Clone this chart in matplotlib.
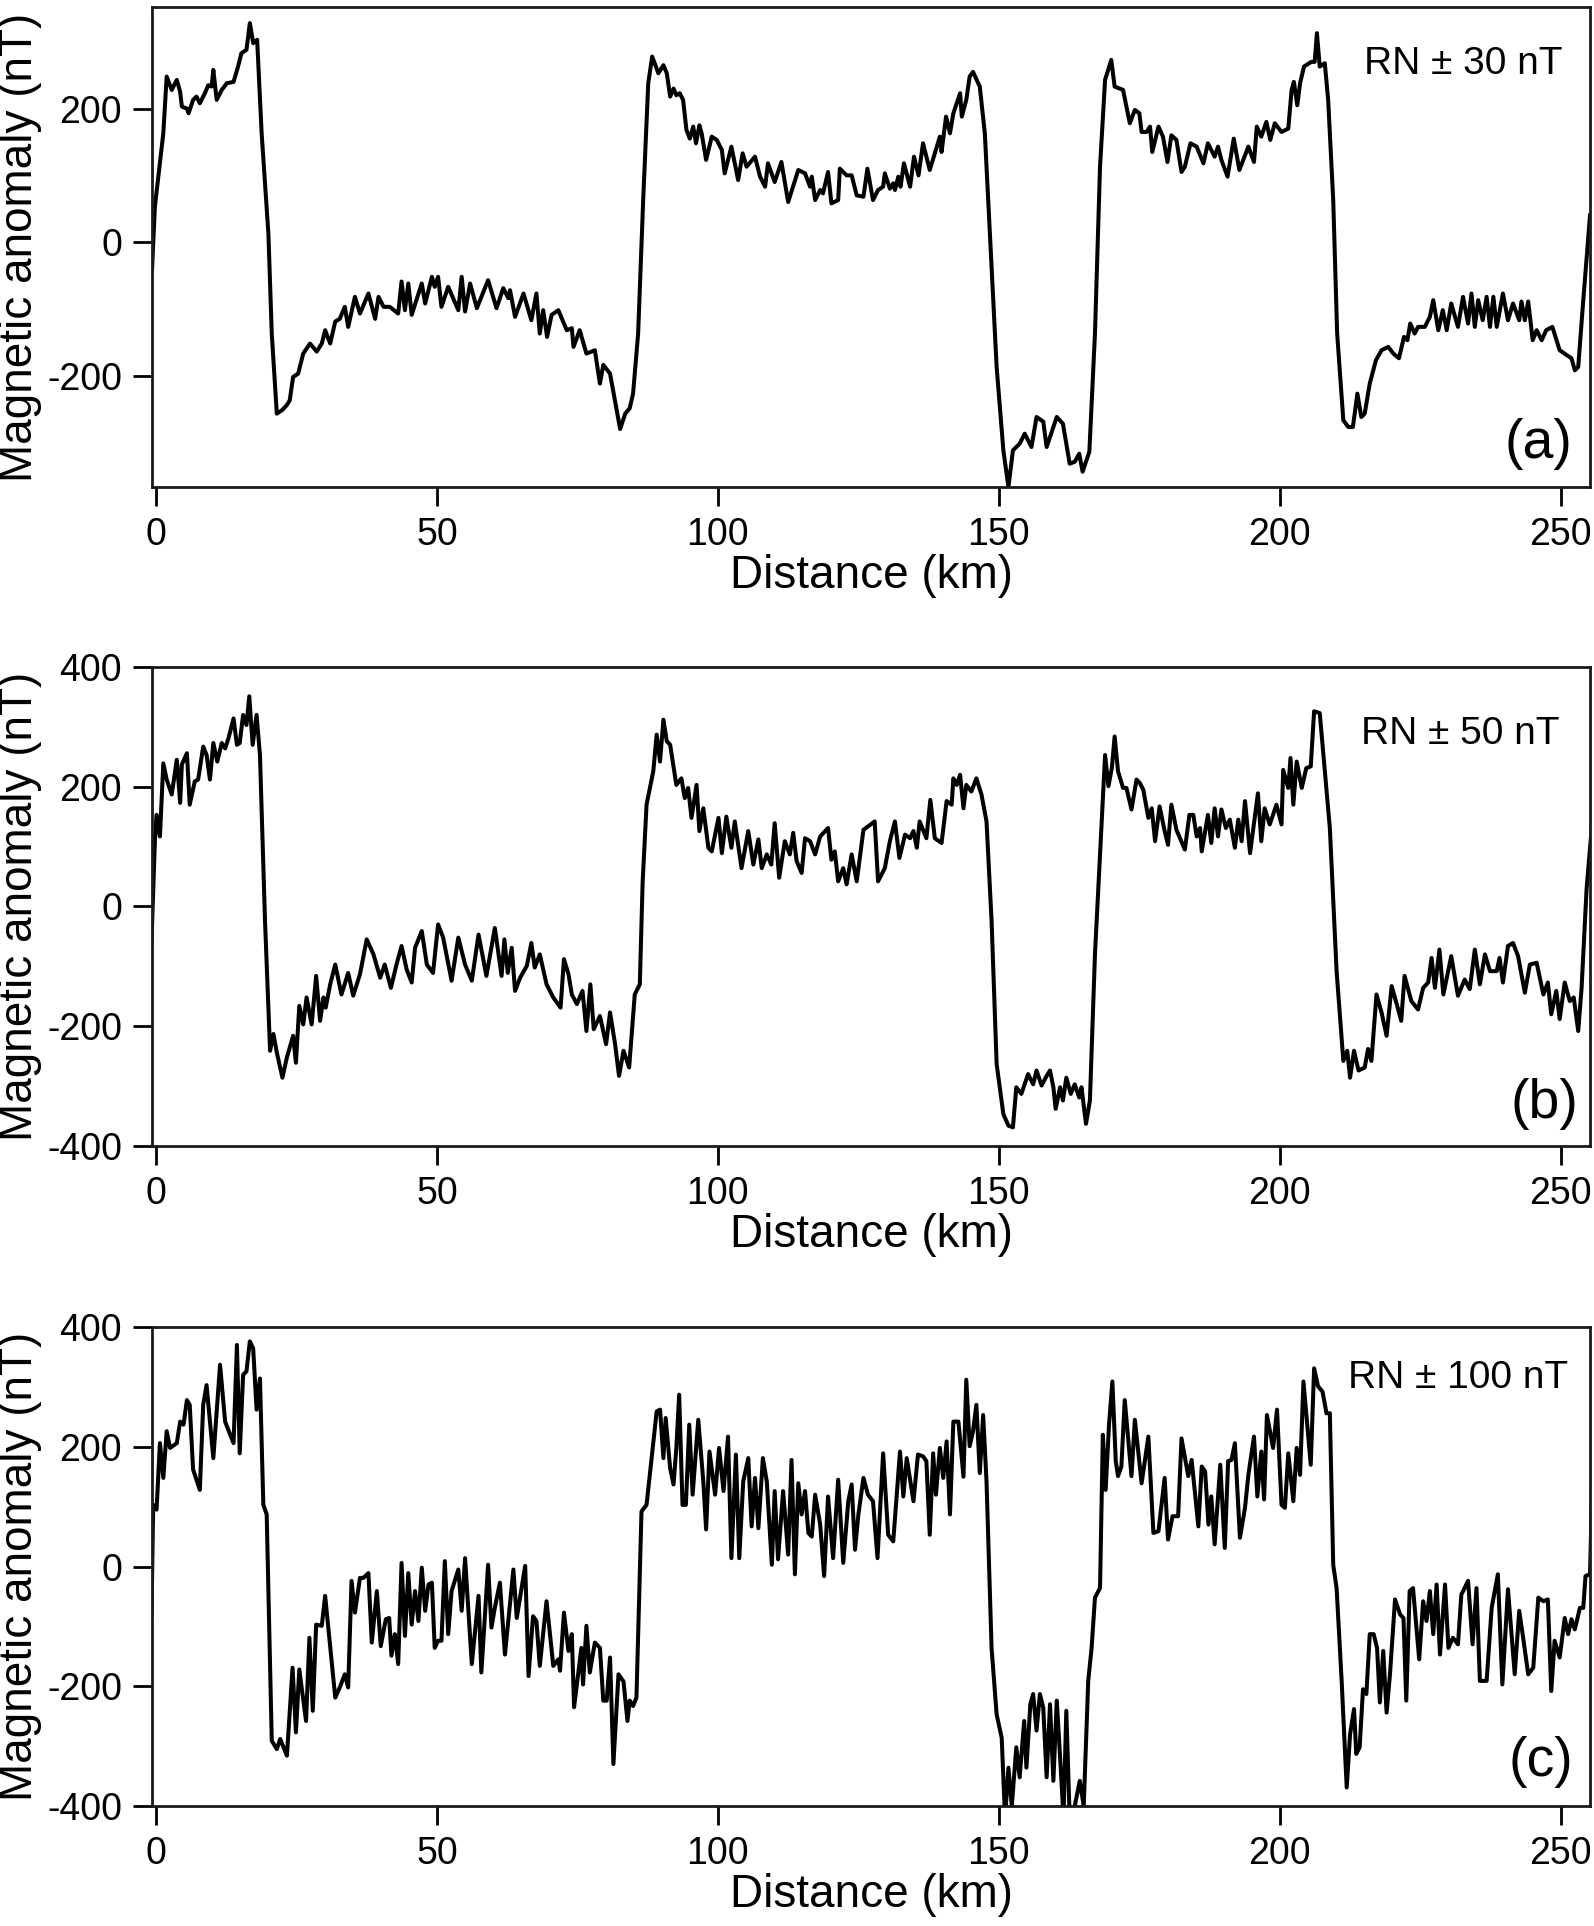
import matplotlib
matplotlib.use("Agg")
import matplotlib.pyplot as plt

plt.rcParams['font.family'] = ['Liberation Sans', 'DejaVu Sans']
plt.rcParams['axes.unicode_minus'] = False

# ---------------- data ----------------
a_km = [-0.7, -0.2, 1.3, 1.9, 2.8, 3.7, 4.3, 4.6, 5.5, 5.8, 6.6, 7.2, 7.8, 8.7, 9.3, 9.9, 10.2, 10.8,
        11.7, 12.6, 13.8, 14.6, 15.2, 16.1, 16.7, 17.3, 18.0, 18.8, 20.0, 20.6, 21.5, 22.4, 23.3, 23.8,
        24.4, 25.3, 26.2, 27.4, 28.6, 29.5, 30.1, 31.0, 31.9, 32.7, 33.6, 34.2, 35.4, 36.3, 37.8, 39.0,
        39.6, 40.5, 41.6, 43.1, 43.7, 44.3, 44.9, 45.5, 47.3, 47.9, 49.1, 49.6, 50.2, 50.8, 52.0, 53.8,
        54.4, 55.0, 55.9, 57.1, 59.1, 60.6, 61.8, 62.7, 63.0, 63.9, 65.4, 66.8, 67.7, 68.3, 68.9, 69.6,
        70.4, 71.6, 73.1, 74.0, 74.3, 75.4, 76.6, 78.1, 79.0, 79.6, 80.8, 82.6, 83.5, 84.3, 84.9, 85.8,
        86.7, 87.6, 88.3, 89.4, 90.3, 90.9, 91.5, 92.1, 92.6, 93.2, 93.8, 94.4, 95.0, 95.6, 96.1, 96.7,
        97.1, 97.9, 98.9, 99.8, 100.7, 101.2, 102.4, 103.6, 104.4, 105.1, 106.6, 107.5, 108.4, 108.9,
        110.1, 111.3, 112.5, 114.3, 115.5, 116.4, 116.7, 117.3, 118.2, 118.7, 119.6, 120.2, 121.4, 121.7,
        122.9, 123.8, 124.7, 125.9, 126.6, 127.6, 128.5, 129.4, 129.7, 130.6, 131.2, 131.5, 132.1, 132.5,
        133.1, 134.2, 134.9, 135.7, 136.5, 137.7, 139.5, 139.8, 140.6, 141.3, 141.9, 143.1, 143.4, 144.2,
        144.8, 145.4, 146.6, 147.5, 148.7, 149.6, 150.8, 151.7, 152.5, 153.7, 154.6, 155.8, 156.7, 157.9,
        158.5, 160.3, 161.4, 162.6, 163.5, 164.3, 164.9, 166.1, 167.1, 168.0, 168.9, 170.0, 170.6, 172.1,
        173.3, 174.2, 175.0, 175.4, 176.3, 176.9, 177.3, 178.4, 179.2, 180.0, 180.7, 181.6, 182.5, 183.1,
        184.1, 185.2, 186.4, 187.2, 188.4, 189.0, 189.6, 190.7, 191.8, 192.8, 194.4, 195.4, 195.9, 196.7,
        197.6, 198.3, 199.1, 200.3, 201.5, 202.1, 202.5, 203.1, 203.6, 204.3, 205.6, 206.2, 206.6, 207.1,
        208.0, 208.6, 209.5, 210.2, 211.3, 212.2, 213.0, 213.8, 214.5, 215.1, 216.0, 217.1, 218.1, 219.3,
        220.2, 221.2, 222.1, 222.7, 223.2, 224.0, 224.6, 225.8, 226.7, 227.3, 228.2, 229.0, 229.7, 230.5,
        231.7, 232.6, 233.5, 234.1, 234.7, 235.3, 236.1, 236.8, 237.4, 238.0, 238.6, 239.7, 240.6, 241.5,
        242.6, 243.0, 243.6, 244.2, 245.0, 245.7, 246.6, 247.4, 248.5, 249.8, 251.0, 251.9, 252.5, 253.1,
        254.0, 255.2]
a_nT = [-40, 53, 163, 248, 228, 243, 225, 203, 200, 193, 213, 218, 208, 223, 235, 233, 258, 213,
        228, 238, 240, 263, 283, 288, 328, 298, 303, 163, 13, -137, -257, -252, -244, -237,
        -202, -197, -167, -152, -164, -152, -132, -152, -119, -115, -97, -127, -82, -107, -77, -115,
        -82, -97, -97, -107, -59, -102, -62, -109, -62, -92, -52, -67, -52, -97, -67, -102,
        -52, -104, -62, -99, -57, -99, -69, -84, -72, -112, -77, -117, -77, -137, -102, -142,
        -109, -102, -132, -129, -157, -132, -167, -162, -212, -184, -197, -280, -257, -249, -227, -137,
        63, 238, 278, 253, 265, 253, 218, 230, 220, 223, 213, 168, 155, 173, 148, 175,
        163, 123, 158, 153, 138, 103, 143, 93, 133, 113, 128, 98, 83, 118,
        90, 120, 60, 108, 103, 83, 98, 63, 78, 73, 105, 58, 63, 110,
        100, 100, 70, 68, 110, 63, 78, 83, 103, 80, 88, 78, 98, 83,
        118, 83, 128, 100, 148, 108, 158, 135, 188, 163, 193, 223, 188, 213,
        248, 255, 233, 163, -37, -187, -312, -367, -312, -302, -287, -307, -262, -269,
        -307, -262, -272, -332, -329, -317, -344, -314, -137, 113, 243, 273, 233, 228,
        178, 198, 193, 165, 165, 173, 135, 173, 158, 120, 160, 153, 105, 113,
        148, 143, 118, 148, 128, 143, 123, 98, 155, 108, 143, 120, 173, 158,
        180, 153, 178, 165, 170, 228, 240, 205, 238, 263, 270, 270, 313, 263,
        268, 213, 63, -137, -267, -277, -277, -227, -262, -257, -212, -177, -162, -157,
        -167, -174, -142, -147, -122, -137, -127, -127, -112, -87, -132, -102, -132, -92,
        -127, -82, -122, -77, -127, -87, -117, -82, -127, -82, -127, -77, -117, -92,
        -117, -89, -117, -89, -147, -132, -147, -132, -127, -162, -169, -174, -192, -187,
        -87, 40]

b_km = [-0.8, -0.2, 0.1, 0.7, 1.3, 1.9, 2.8, 3.7, 4.3, 4.6, 5.5, 6.0, 6.9, 7.5, 8.4, 9.0, 9.6, 10.2,
        10.9, 11.7, 12.3, 12.9, 13.8, 14.4, 14.9, 15.5, 16.1, 16.6, 17.2, 17.9, 18.5, 19.4, 20.3, 20.9,
        21.5, 22.5, 23.3, 24.4, 24.9, 25.5, 26.2, 26.8, 27.7, 28.5, 29.2, 29.8, 30.2, 31.0, 31.9, 33.0,
        34.2, 35.1, 36.3, 37.5, 38.7, 39.9, 40.7, 41.8, 42.8, 43.7, 44.6, 45.5, 46.1, 47.3, 48.2, 49.3,
        50.2, 51.1, 52.6, 53.8, 55.0, 56.2, 57.4, 58.8, 60.3, 61.5, 62.0, 62.6, 63.3, 63.9, 64.8, 66.0,
        66.8, 67.4, 68.3, 69.5, 70.7, 72.0, 72.6, 73.4, 74.0, 74.9, 75.9, 76.6, 77.3, 77.9, 79.0, 80.1,
        80.8, 81.7, 82.4, 83.2, 84.2, 85.2, 86.1, 86.6, 87.3, 88.5, 89.1, 89.7, 90.3, 90.9, 91.5, 92.6,
        93.5, 94.1, 94.7, 95.3, 96.2, 96.7, 97.4, 98.3, 98.9, 100.1, 100.7, 101.5, 102.4, 103.0, 104.2,
        105.4, 106.3, 107.2, 107.8, 108.7, 109.5, 110.1, 110.9, 111.9, 112.8, 113.4, 114.0, 114.9, 115.5,
        116.4, 117.3, 118.2, 119.6, 120.2, 120.8, 121.4, 122.3, 122.9, 123.8, 124.7, 125.9, 127.9, 128.5,
        129.7, 130.6, 131.5, 132.3, 133.3, 134.2, 134.8, 135.4, 135.9, 137.1, 137.8, 138.6, 139.8, 140.7,
        141.6, 141.9, 142.5, 143.1, 143.7, 144.2, 145.1, 146.0, 146.9, 147.8, 148.7, 149.6, 150.8, 151.7,
        152.5, 153.1, 154.0, 155.2, 156.1, 156.7, 157.6, 158.5, 159.1, 159.7, 160.1, 160.9, 161.4, 162.0,
        162.8, 163.5, 164.3, 164.7, 165.5, 166.2, 167.1, 168.0, 168.9, 169.5, 170.1, 170.6, 171.2, 172.1,
        172.7, 173.6, 174.5, 175.1, 175.7, 176.6, 177.2, 177.8, 178.6, 179.5, 180.1, 180.7, 181.6, 183.1,
        183.9, 184.6, 185.2, 185.8, 186.1, 187.2, 187.8, 188.4, 189.0, 189.6, 190.4, 191.1, 192.0, 192.6,
        193.2, 193.8, 194.7, 196.1, 196.7, 197.3, 198.2, 199.4, 200.3, 200.6, 201.5, 201.9, 202.4, 203.0,
        203.9, 204.7, 205.5, 206.1, 207.1, 208.0, 208.9, 210.1, 211.3, 212.0, 212.5, 213.2, 214.0, 215.1,
        215.7, 216.3, 217.2, 218.1, 219.0, 219.9, 220.8, 221.6, 222.2, 223.4, 224.6, 225.5, 226.4, 227.0,
        227.6, 228.4, 229.1, 230.5, 231.7, 232.9, 233.8, 234.7, 235.6, 236.5, 237.4, 238.6, 239.1, 239.7,
        240.6, 241.5, 242.4, 243.6, 244.5, 245.7, 246.9, 247.7, 248.3, 249.2, 249.8, 250.7, 251.6, 252.3,
        253.1, 253.7, 254.6, 255.5]
b_nT = [-58, 109, 153, 117, 239, 212, 187, 245, 173, 237, 256, 170, 209, 212, 267, 253, 212, 273,
        242, 273, 264, 281, 314, 270, 273, 320, 303, 351, 270, 320, 253, -24, -241, -213,
        -244, -286, -252, -216, -261, -166, -197, -152, -197, -116, -191, -152, -169, -130, -97, -147,
        -111, -149, -113, -55, -80, -119, -97, -136, -97, -66, -105, -127, -69, -41, -97, -111,
        -30, -52, -124, -52, -97, -124, -47, -116, -36, -116, -55, -111, -69, -141, -119, -99,
        -61, -102, -80, -130, -152, -169, -88, -113, -147, -163, -141, -208, -130, -205, -183, -230,
        -177, -230, -283, -241, -269, -147, -130, 40, 170, 226, 287, 242, 312, 276, 270, 203,
        214, 181, 198, 148, 203, 126, 164, 98, 92, 148, 89, 150, 98, 142, 64,
        126, 70, 112, 64, 87, 70, 139, 48, 109, 87, 123, 76, 56, 114,
        109, 87, 117, 131, 78, 92, 42, 64, 37, 87, 42, 128, 142, 42,
        64, 109, 142, 81, 120, 114, 126, 98, 142, 114, 178, 114, 106, 176,
        170, 214, 203, 220, 164, 203, 192, 214, 187, 142, -24, -263, -347, -366,
        -369, -302, -313, -280, -297, -274, -299, -283, -274, -302, -338, -302, -324, -286,
        -313, -297, -319, -302, -363, -324, -80, 87, 253, 201, 231, 284, 226, 198,
        198, 162, 212, 206, 195, 148, 164, 109, 167, 126, 103, 170, 128, 95,
        153, 153, 117, 131, 92, 153, 106, 164, 117, 162, 131, 145, 98, 145,
        109, 176, 89, 189, 109, 164, 137, 170, 137, 228, 198, 248, 170, 242,
        198, 231, 234, 326, 323, 226, 131, -108, -258, -241, -286, -241, -274, -269,
        -238, -258, -147, -177, -216, -133, -163, -191, -116, -158, -172, -136, -127, -86,
        -136, -72, -147, -83, -149, -122, -138, -72, -130, -80, -108, -108, -86, -127,
        -66, -61, -83, -144, -97, -94, -147, -127, -180, -141, -188, -127, -158, -152,
        -208, -136, 31, 130]

c_km = [-0.8, -0.5, 0.1, 0.7, 1.3, 1.9, 2.5, 3.7, 4.3, 4.9, 5.5, 6.0, 6.6, 7.8, 8.4, 9.0, 10.2, 11.4,
        12.3, 13.8, 14.4, 14.9, 15.5, 16.1, 16.7, 17.3, 17.9, 18.5, 19.1, 19.7, 20.6, 21.5, 22.1, 23.3,
        24.3, 24.9, 25.5, 26.7, 27.3, 27.9, 28.5, 29.5, 30.1, 31.9, 32.7, 33.6, 34.2, 34.8, 35.4, 36.3,
        36.9, 37.8, 38.4, 39.3, 40.0, 40.9, 41.5, 41.9, 42.5, 43.1, 43.7, 44.3, 44.9, 45.5, 46.1, 46.7,
        47.3, 47.9, 48.5, 49.1, 49.6, 50.2, 50.8, 51.4, 52.0, 52.6, 53.8, 54.4, 55.0, 56.2, 57.4, 57.9,
        59.1, 59.7, 60.3, 61.2, 62.1, 63.6, 64.2, 65.7, 66.3, 67.1, 67.7, 68.3, 69.5, 70.7, 71.6, 71.9,
        72.6, 73.4, 74.0, 74.4, 75.7, 76.0, 76.6, 77.2, 78.1, 79.0, 79.6, 80.2, 80.8, 81.4, 82.3, 83.2,
        83.9, 84.3, 84.9, 85.5, 86.4, 87.3, 88.2, 89.1, 89.7, 90.3, 90.7, 91.5, 92.1, 92.6, 93.1, 93.7,
        94.3, 94.9, 95.5, 96.5, 97.4, 97.9, 98.5, 99.5, 100.2, 101.0, 101.8, 102.4, 103.2, 103.8, 104.5,
        105.4, 106.0, 106.6, 107.2, 108.0, 108.7, 109.6, 110.1, 110.7, 111.6, 112.5, 113.1, 113.7, 114.3,
        114.9, 115.5, 116.1, 116.7, 117.3, 118.2, 118.9, 119.6, 120.5, 121.4, 122.3, 123.2, 123.8, 124.4,
        125.0, 125.9, 126.7, 127.6, 128.4, 129.4, 130.3, 131.2, 132.4, 133.0, 133.6, 134.8, 135.6, 136.5,
        137.1, 137.7, 138.3, 138.8, 139.5, 140.1, 140.7, 141.3, 141.9, 142.8, 143.7, 144.2, 144.8, 145.4,
        146.0, 146.6, 147.2, 147.8, 148.7, 149.6, 150.5, 151.1, 151.7, 152.3, 153.1, 153.7, 154.5, 154.9,
        155.6, 156.1, 156.7, 157.3, 157.9, 158.5, 159.1, 159.7, 160.3, 160.9, 161.5, 162.0, 162.6, 163.5,
        164.4, 165.1, 165.9, 166.5, 167.1, 168.0, 168.5, 169.0, 169.6, 170.2, 170.8, 171.2, 171.8, 172.4,
        173.6, 174.2, 175.4, 176.6, 177.5, 178.4, 179.5, 180.1, 180.9, 181.9, 182.5, 183.7, 184.3, 185.5,
        186.1, 186.7, 187.3, 187.8, 188.4, 189.4, 190.2, 190.8, 191.4, 192.0, 192.9, 193.8, 194.4, 195.4,
        196.0, 196.7, 197.2, 197.7, 198.8, 199.5, 200.3, 200.9, 201.5, 202.4, 203.0, 203.6, 204.2, 205.5,
        206.1, 206.8, 207.6, 208.3, 208.9, 209.5, 210.1, 211.0, 211.9, 212.5, 213.2, 213.6, 214.2, 214.8,
        215.4, 216.0, 216.7, 217.3, 217.8, 218.4, 219.0, 219.6, 220.5, 221.4, 222.0, 222.5, 223.1, 223.7,
        224.8, 225.5, 226.1, 226.7, 227.3, 227.9, 228.5, 229.4, 230.0, 230.8, 231.7, 232.3, 233.5, 234.3,
        235.0, 235.6, 236.8, 237.7, 238.8, 239.6, 240.6, 241.8, 242.6, 243.3, 244.2, 245.1, 246.0, 246.9,
        247.7, 248.3, 248.9, 249.8, 250.7, 251.3, 251.9, 252.5, 253.4, 254.0, 254.4, 255.2, 255.6]
c_nT = [-80, 103, 95, 206, 148, 226, 198, 206, 242, 237, 278, 270, 162, 128, 270, 303, 181, 337,
        242, 206, 370, 189, 320, 326, 376, 364, 262, 314, 103, 87, -291, -305, -288, -316,
        -169, -277, -172, -258, -119, -241, -97, -99, -49, -219, -202, -180, -202, -24, -77, -19,
        -19, -11, -127, -41, -133, -88, -86, -149, -113, -163, 6, -116, -11, -97, -41, -91,
        -2, -74, -30, -27, -136, -124, -124, 9, -113, -41, -5, -74, 14, -163, -49, -177,
        3, -102, -69, -27, -147, -5, -86, 1, -183, -83, -91, -166, -58, -166, -155, -174,
        -77, -141, -113, -235, -136, -197, -99, -177, -127, -136, -224, -224, -152, -330, -180, -192,
        -258, -224, -233, -219, 92, 103, 181, 259, 262, 181, 248, 164, 137, 198, 287, 103,
        103, 237, 120, 245, 142, 62, 192, 120, 198, 126, 217, 14, 187, 14, 142,
        181, 67, 148, 64, 181, 142, 3, 126, 12, 126, 20, 178, -13, 139,
        87, 126, 56, 50, 120, 70, -16, 117, 14, 145, 6, 109, 137, 28,
        87, 148, 120, 109, 14, 189, 53, 42, 192, 117, 181, 109, 187, 184,
        176, 53, 189, 120, 198, 148, 209, 87, 242, 242, 150, 312, 201, 226,
        270, 156, 253, 142, -136, -247, -286, -420, -336, -400, -302, -352, -258, -336,
        -230, -213, -274, -213, -236, -352, -230, -358, -224, -319, -420, -241, -420, -400,
        -358, -400, -191, -136, -52, -36, 220, 128, 237, 309, 176, 151, 167, 278,
        151, 245, 139, 217, 56, 59, 148, 45, 84, 84, 214, 151, 178, 67,
        167, 159, 70, 117, 37, 170, 31, 176, 178, 206, 48, 98, 153, 217,
        117, 192, 112, 253, 198, 262, 103, 98, 189, 109, 198, 153, 309, 170,
        331, 301, 292, 256, 256, 3, -36, -191, -369, -280, -238, -313, -302, -205,
        -213, -113, -113, -136, -227, -141, -244, -180, -55, -80, -86, -224, -41, -36,
        -155, -58, -91, -41, -113, -30, -147, -30, -136, -119, -130, -47, -24, -130,
        -36, -191, -191, -69, -13, -197, -38, -180, -74, -119, -180, -169, -52, -58,
        -55, -208, -124, -152, -86, -113, -88, -105, -69, -69, -16, -13, 142]

x_ticks = [0, 50, 100, 150, 200, 250]
a_yticks = [-200, 0, 200]
bc_yticks = [-400, -200, 0, 200, 400]
noise_labels = ['RN ± 30 nT', 'RN ± 50 nT', 'RN ± 100 nT']
panel_labels = ['(a)', '(b)', '(c)']

# ---------------- figure ----------------
fig = plt.figure(figsize=(15.94, 19.26), dpi=100)

panels = [
    dict(rect=[0.0954, 0.7471, 0.9021, 0.2492], x=a_km, y=a_nT, ylim=(-367, 352), yticks=a_yticks,
         rn_pos=(0.981, 0.881), lab_pos=(0.988, 0.090)),
    dict(rect=[0.0954, 0.4050, 0.9021, 0.2487], x=b_km, y=b_nT, ylim=(-400, 400), yticks=bc_yticks,
         rn_pos=(0.979, 0.860), lab_pos=(0.992, 0.088)),
    dict(rect=[0.0954, 0.0623, 0.9021, 0.2487], x=c_km, y=c_nT, ylim=(-400, 400), yticks=bc_yticks,
         rn_pos=(0.985, 0.894), lab_pos=(0.988, 0.092)),
]

for i, p in enumerate(panels):
    ax = fig.add_axes(p['rect'])
    ax.plot(p['x'], p['y'], color='black', linewidth=2.9, solid_joinstyle='round')
    ax.set_xlim(-0.7, 255.2)
    ax.set_ylim(*p['ylim'])
    ax.set_xticks(x_ticks)
    ax.set_yticks(p['yticks'])
    ax.tick_params(direction='out', length=13.5, width=2, pad=8, labelsize=27, colors='black')
    for s in ax.spines.values():
        s.set_linewidth(2)
        s.set_color('#1a1a1a')
    ax.set_xlabel('Distance (km)', fontsize=33, labelpad=1)
    ax.set_ylabel('Magnetic anomaly (nT)', fontsize=33, labelpad=4)
    ax.text(p['rn_pos'][0], p['rn_pos'][1], noise_labels[i], transform=ax.transAxes,
            ha='right', va='center', fontsize=28)
    ax.text(p['lab_pos'][0], p['lab_pos'][1], panel_labels[i], transform=ax.transAxes,
            ha='right', va='center', fontsize=40)

fig.savefig('out.png', dpi=100)
